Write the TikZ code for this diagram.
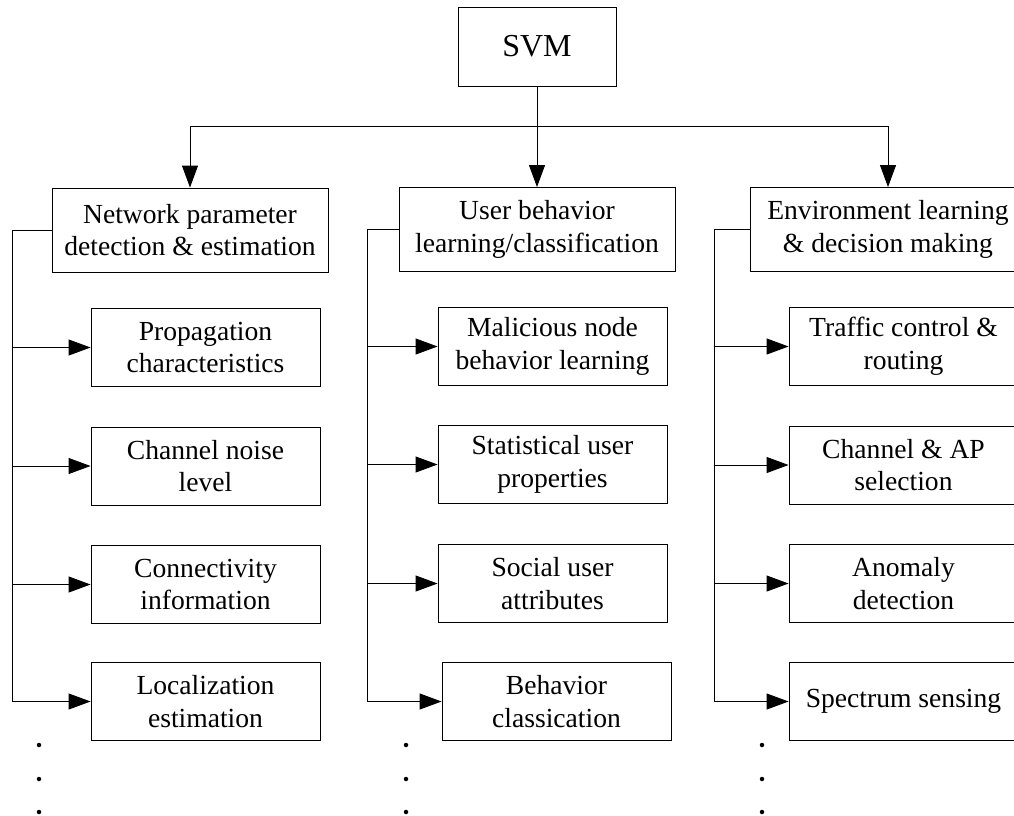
\documentclass[tikz,border=0pt]{standalone}
\usepackage{fontspec}
\setmainfont{Liberation Serif}
\usetikzlibrary{arrows.meta}
\begin{document}
\begin{tikzpicture}[x=1pt,y=-1pt,
  box/.style={draw,line width=0.9pt,align=center,inner sep=0pt,font=\fontsize{27.6}{32.5}\selectfont},
  l2/.style={box,minimum width=276pt,minimum height=84pt},
  leaf/.style={box,minimum width=229pt,minimum height=78pt},
  conn/.style={line width=0.9pt},
  arr/.style={conn,-{Triangle[length=22pt,width=16pt]}},
  dot/.style={circle,fill,inner sep=0pt,minimum size=4.5pt}]
\useasboundingbox (0,0) rectangle (1014,816);
\node[box,minimum width=158pt,minimum height=79pt,font=\fontsize{32}{38}\selectfont] (svm) at (537,46.5) {SVM};
\node[l2] (N) at (190,230) {Network parameter\\detection \& estimation};
\node[l2] (U) at (537,229.5) {User behavior\\learning/classification};
\node[l2] (E) at (888,229.5) {Environment learning\\\& decision making};
% leaves
\node[leaf] (n1) at (205.5,347.5) {Propagation\\characteristics};
\node[leaf] (n2) at (205.5,466) {Channel noise\\level};
\node[leaf] (n3) at (205.5,584.5) {Connectivity\\information};
\node[leaf] (n4) at (205.5,701.5) {Localization\\estimation};
\node[leaf] (u1) at (552.5,346.5) {Malicious node\\behavior learning};
\node[leaf] (u2) at (552.5,464.5) {Statistical user\\properties};
\node[leaf] (u3) at (552.5,583.5) {Social user\\attributes};
\node[leaf] (u4) at (556.5,701.5) {Behavior\\classication};
\node[leaf] (e1) at (903.5,346.5) {Traffic control \&\\routing};
\node[leaf] (e2) at (903.5,465) {Channel \& AP\\selection};
\node[leaf] (e3) at (903.5,583.5) {Anomaly\\detection};
\node[leaf] (e4) at (903.5,701.5) {Spectrum sensing};
% top connectors
\coordinate (bus) at (0,126);
\draw[arr] (svm.south) -- (U.north);
\draw[arr] (bus -| N.north) -- (N.north);
\draw[arr] (bus -| E.north) -- (E.north);
\draw[conn] (bus -| N.north) -- (bus -| E.north);
% trunks
\coordinate (nx) at (12,0);
\coordinate (ux) at (367,0);
\coordinate (ex) at (714,0);
\draw[conn] (N.west) -- (nx |- N.west) -- (nx |- n4.west);
\draw[conn] (U.west) -- (ux |- U.west) -- (ux |- u4.west);
\draw[conn] (E.west) -- (ex |- E.west) -- (ex |- e4.west);
\foreach \c in {n1,n2,n3,n4}{\draw[arr] (nx |- \c.west) -- (\c.west);}
\foreach \c in {u1,u2,u3,u4}{\draw[arr] (ux |- \c.west) -- (\c.west);}
\foreach \c in {e1,e2,e3,e4}{\draw[arr] (ex |- \c.west) -- (\c.west);}
% dots
\foreach \x/\n in {39/a,406/b,762/c}{
  \node[dot] (d1\n) at (\x,745) {};
  \node[dot] (d2\n) at (\x,779) {};
  \node[dot] (d3\n) at (\x,812) {};
}
\end{tikzpicture}
\end{document}
